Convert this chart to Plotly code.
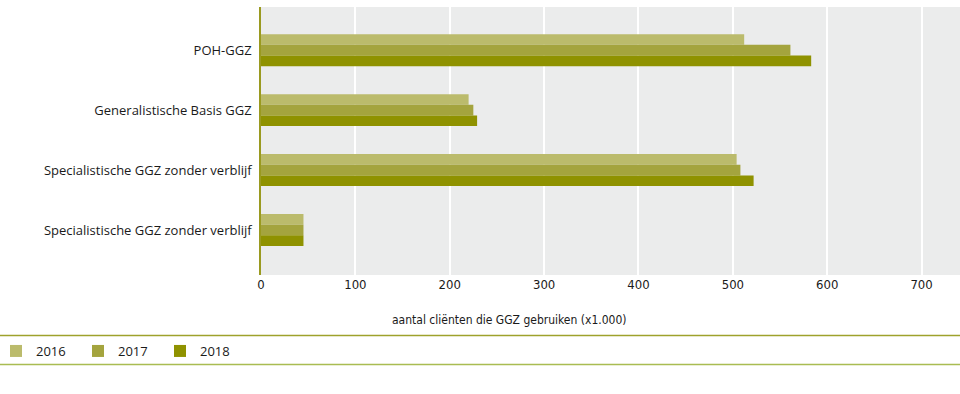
import plotly.graph_objects as go

categories = ["POH-GGZ", "Generalistische Basis GGZ", "Specialistische GGZ zonder verblijf", "Specialistische GGZ zonder verblijf"]
years = ["2016", "2017", "2018"]
values_2016 = [512, 220, 504, 45]
values_2017 = [561, 225, 508, 45]
values_2018 = [583, 229, 522, 45]
tick_vals = [0, 100, 200, 300, 400, 500, 600, 700]
x_title = "aantal cliënten die GGZ gebruiken (x1.000)"

colors = ["#bbbb6c", "#a4a43e", "#8f9200"]
series = [values_2016, values_2017, values_2018]
positions = list(range(len(categories)))

fig = go.Figure()
for name, vals, col in zip(years, series, colors):
    fig.add_trace(go.Bar(
        x=vals, y=positions, orientation="h", name=name,
        marker=dict(color=col, line=dict(width=0)),
    ))

W, H = 960, 394
L, R, T, B = 261, 0, 7, 119
pw = W - L - R
ph = H - T - B

def px_x(p):
    return (p - L) / pw

def px_y(p):
    return (H - B - p) / ph

fig.update_layout(
    width=W, height=H,
    margin=dict(l=L, r=R, t=T, b=B, pad=0, autoexpand=False),
    paper_bgcolor="white",
    plot_bgcolor="#ebecec",
    barmode="group",
    bargap=0.467,
    bargroupgap=0,
    font=dict(family="Open Sans, Noto Sans, sans-serif", size=13, color="#1a1a1a"),
    xaxis=dict(
        range=[0, 740.7], tickvals=tick_vals, showgrid=True, gridcolor="white", gridwidth=2,
        zeroline=False, showline=False, ticks="", automargin=False,
        tickfont=dict(family="DejaVu Sans Condensed, Open Sans, sans-serif", size=13),
        fixedrange=True,
    ),
    yaxis=dict(
        tickvals=positions, ticktext=categories,
        showgrid=False, zeroline=False, automargin=False,
        showline=True, linecolor="#9a9a20", linewidth=1.5, ticks="", ticklabelstandoff=5,
        tickfont=dict(size=13),
    ),
    legend=dict(
        orientation="h", x=px_x(-4), xanchor="left", y=px_y(336), yanchor="top",
        entrywidth=37, entrywidthmode="pixels", font=dict(size=13),
        bgcolor="rgba(0,0,0,0)", traceorder="normal",
    ),
    showlegend=True,
)
fig.update_yaxes(autorange=False, range=[3.75, -0.72])

fig.add_annotation(
    text=x_title, xref="paper", yref="paper", x=px_x(509), y=px_y(320),
    xanchor="center", yanchor="middle", showarrow=False,
    font=dict(family="DejaVu Sans Condensed, Roboto, sans-serif", size=12),
)

fig.add_shape(type="line", xref="paper", yref="paper", x0=px_x(0), x1=px_x(960),
              y0=px_y(335.5), y1=px_y(335.5), line=dict(color="#9ea22c", width=1.5))
fig.add_shape(type="line", xref="paper", yref="paper", x0=px_x(0), x1=px_x(960),
              y0=px_y(364.5), y1=px_y(364.5), line=dict(color="#a9bc52", width=1.5))

fig.write_html("out.html", config={"displayModeBar": False},
               post_script="document.body.style.margin='0';")
